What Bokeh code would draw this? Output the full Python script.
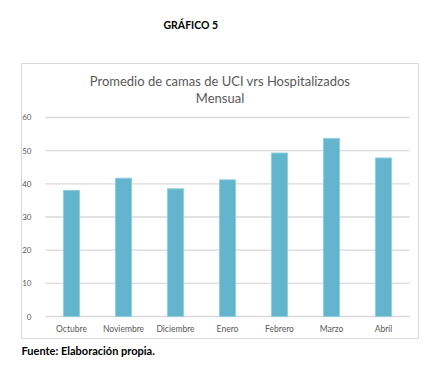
from bokeh.plotting import figure
from bokeh.models import Range1d, Label, Title
from bokeh.embed import file_html
from bokeh.resources import INLINE

months = ["Octubre", "Noviembre", "Diciembre", "Enero", "Febrero", "Marzo", "Abril"]
values = [38.0, 41.7, 38.5, 41.2, 49.3, 53.7, 47.8]
y_ticks = [0, 10, 20, 30, 40, 50, 60]

FONT = "Lato"
GRAY = "#595959"
GRID = "#d9d9d9"

idx = list(range(len(months)))

p = figure(width=437, height=369,
           x_range=Range1d(-0.9615, 6.673), y_range=Range1d(-6.633, 76.28),
           output_backend="svg", toolbar_location=None,
           min_border_left=21, min_border_right=19, min_border_top=63, min_border_bottom=31)
p.outline_line_color = GRID
p.outline_line_width = 1
p.background_fill_color = "white"
p.border_fill_color = "white"
p.xgrid.grid_line_color = None
p.ygrid.grid_line_color = None

# horizontal gridlines limited to the category area
p.segment(x0=[-0.5] * len(y_ticks), x1=[len(months) - 0.5] * len(y_ticks),
          y0=y_ticks, y1=y_ticks, line_color=GRID, line_width=1.3)

p.vbar(x=idx, top=values, width=0.31, fill_color="#63b5cd", line_color="#92cfe1", line_width=1)

p.yaxis.ticker = y_ticks
p.yaxis.fixed_location = -0.5
p.yaxis.axis_line_color = None
p.yaxis.major_tick_line_color = None
p.yaxis.minor_tick_line_color = None
p.yaxis.major_label_text_font = FONT
p.yaxis.major_label_text_font_size = "8px"
p.yaxis.major_label_text_color = GRAY
p.yaxis.major_label_standoff = 8

p.xaxis.ticker = idx
p.xaxis.major_label_overrides = {i: m for i, m in zip(idx, months)}
p.xaxis.fixed_location = -0.6
p.xaxis.axis_line_color = None
p.xaxis.major_tick_line_color = None
p.xaxis.minor_tick_line_color = None
p.xaxis.major_label_text_font = FONT
p.xaxis.major_label_text_font_size = "8.5px"
p.xaxis.major_label_text_color = GRAY
p.xaxis.major_label_standoff = 0

p.add_layout(Title(text="GRÁFICO 5\n\n", align="left", offset=142, standoff=18,
                   text_font=FONT, text_font_style="bold", text_font_size="10.5px",
                   text_color="black"), "above")
p.add_layout(Title(text="Fuente: Elaboración propia.", align="left", offset=0, standoff=6,
                   text_font=FONT, text_font_style="bold", text_font_size="11px",
                   text_color="black"), "below")

p.add_layout(Label(x=198.5, y=258, x_units="screen", y_units="screen",
                   text="Promedio de camas de UCI vrs Hospitalizados",
                   text_align="center", text_baseline="middle", text_font=FONT,
                   text_font_size="13px", text_color=GRAY))
p.add_layout(Label(x=198.5, y=241, x_units="screen", y_units="screen", text="Mensual",
                   text_align="center", text_baseline="middle", text_font=FONT,
                   text_font_size="13px", text_color=GRAY))

open("out.html", "w").write(file_html(p, INLINE))
